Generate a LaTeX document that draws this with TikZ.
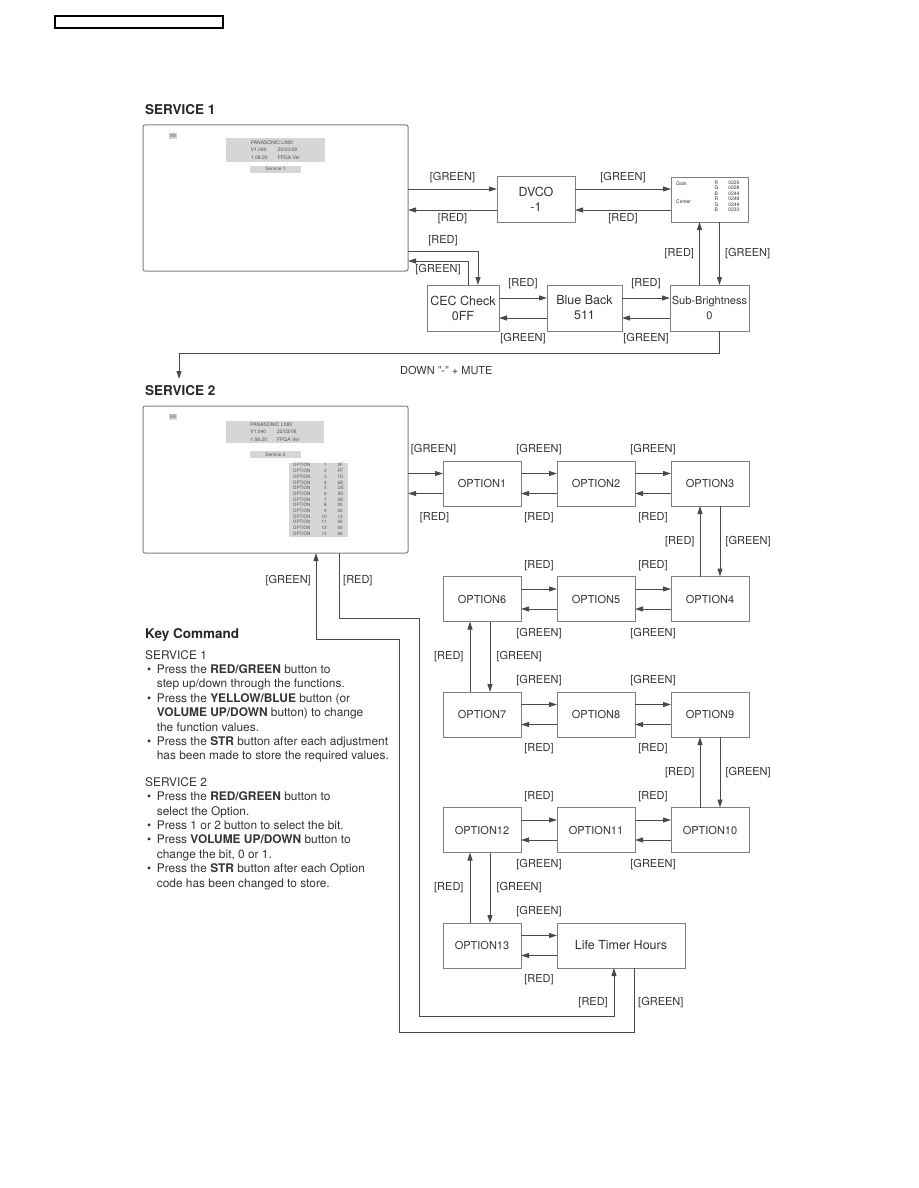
\documentclass[tikz,border=0pt]{standalone}
\usepackage{fontspec}
\setmainfont{TeX Gyre Heros}
\usepackage{tikz}
\usetikzlibrary{positioning,arrows.meta,calc}
\definecolor{ink}{HTML}{333333}
\definecolor{frame}{HTML}{7F7F7F}
\definecolor{wire}{HTML}{4A4A4A}
\definecolor{osd}{HTML}{D6D6D6}
\newcommand{\btn}[1]{\textbf{#1}}
\tikzset{
  pagehdr/.style = {rectangle, draw=black, line width=1.3pt, minimum width=168pt, minimum height=12pt,
                    inner sep=0pt},
  screen/.style  = {rectangle, rounded corners=2pt, draw=frame, line width=1pt, minimum width=265pt,
                    minimum height=146pt, inner sep=0pt, outer sep=0pt},
  fnbox/.style   = {rectangle, draw=frame, fill=white, line width=0.9pt, minimum width=#1, minimum height=46pt,
                    inner sep=0pt, outer sep=0pt, align=center, text=ink, font=\fontsize{12.5}{15}\selectfont},
  fnbox/.default = 78pt,
  optbox/.style  = {rectangle, draw=frame, line width=0.9pt, minimum width=78pt, minimum height=45pt,
                    inner sep=0pt, outer sep=0pt, text=ink, font=\fontsize{11}{13}\selectfont},
  link/.style    = {-{Triangle[length=8pt,width=5pt]}, line width=1pt, draw=wire},
  tag/.style     = {font=\fontsize{11}{13}\selectfont, text=ink, inner sep=0pt},
  tagup/.style   = {tag, midway, yshift=23.5pt},
  tagdown/.style = {tag, midway, yshift=-24.5pt},
  osdbox/.style  = {fill=osd, inner sep=1pt, text=ink!85, font=\fontsize{5}{7.5}\selectfont},
  tiny/.style    = {inner sep=0pt, text=ink, font=\fontsize{5}{5.5}\selectfont},
  title/.style   = {anchor=base west, inner sep=0pt, text=black!85, font=\bfseries\fontsize{13.5}{16}\selectfont},
  keytext/.style = {anchor=base west, inner sep=0pt, text=ink, font=\fontsize{11.9}{14.4}\selectfont},
}

\begin{document}
\begin{tikzpicture}[x=1pt, y=-1pt]
  \useasboundingbox (0,0) rectangle (918,1188);
  \node[pagehdr] (hdrbox) at (139,22) {};

  % --- service 1 ---
  \node[title] (titleone) at (145,114) {SERVICE 1};
  \node[screen] (scr1) at (275.5,198) {};
  \node[osdbox] (chone) at (173,136) {99};
  \node[osdbox, minimum width=99pt, minimum height=24pt, inner sep=0pt] (infoone) at (275.5,150)
    {\begin{tabular}{@{}l@{\hspace{10pt}}l@{}}\multicolumn{2}{@{}l@{}}{PANASONIC LX80}\\
     V1.040 & 22/03/08\\ 1.08.20 & FPGA Ver\end{tabular}};
  \node[osdbox, minimum width=51pt, minimum height=7pt, inner sep=0pt, font=\fontsize{4.8}{5}\selectfont]
    (modeone) at (275.5,169) {Service 1};

  \node[fnbox] (dvco) at (536,199) {DVCO\\-1};
  \node[fnbox=77pt, minimum height=45pt] (gain) at (709.5,199.5) {};
  \node[tiny, anchor=west] (gaintxt) at (676,184) {Gain};
  \node[tiny, anchor=west] (centertxt) at (676,202) {Center};
  \node[tiny] (gainvals) at (727,197)
    {\begin{tabular}{@{}l@{\hspace{10pt}}l@{}}R&0229\\G&0228\\B&0244\\R&0248\\G&0244\\B&0233\end{tabular}};
  \node[fnbox=72pt] (cec) at (463,308) {CEC Check\\0FF};
  \node[fnbox=75pt] (blueback) at (584.5,308) {Blue Back\\511};
  \node[fnbox=79pt, font=\fontsize{11}{15}\selectfont] (subbr) at (709.5,308) {Sub-Brightness\\0};

  \draw[link] ($(scr1.east |- dvco.west)+(0,-10)$) -- node[tag, yshift=11pt] {[GREEN]} ($(dvco.west)+(0,-10)$);
  \draw[link] ($(dvco.west)+(0,11)$) -- node[tag, yshift=-9pt] {[RED]} ($(scr1.east |- dvco.west)+(0,11)$);
  \draw[link] ($(dvco.east)+(0,-10)$) -- node[tag, yshift=11pt] {[GREEN]} ($(gain.west |- dvco.east)+(0,-10)$);
  \draw[link] ($(gain.west |- dvco.east)+(0,11)$) -- node[tag, yshift=-9pt] {[RED]} ($(dvco.east)+(0,11)$);
  \draw[link] ($(gain.south)+(10,0)$) -- node[tag, right=5pt] {[GREEN]} ($(subbr.north)+(10,0)$);
  \draw[link] ($(subbr.north)+(-10,0)$) -- node[tag, left=5pt] {[RED]} ($(gain.south)+(-10,0)$);
  \draw[link] ($(cec.east)+(0,-10)$) -- node[tag, yshift=14pt] {[RED]} ($(blueback.west)+(0,-10)$);
  \draw[link] ($(blueback.west)+(0,10)$) -- node[tag, yshift=-21pt] {[GREEN]} ($(cec.east)+(0,10)$);
  \draw[link] ($(blueback.east)+(0,-10)$) -- node[tag, yshift=14pt] {[RED]} ($(subbr.west)+(0,-10)$);
  \draw[link] ($(subbr.west)+(0,10)$) -- node[tag, yshift=-21pt] {[GREEN]} ($(blueback.east)+(0,10)$);
  \draw[link] ($(scr1.east)+(0,53)$) -| node[tag, pos=0.25, yshift=10pt] {[RED]} ($(cec.north)+(15,0)$);
  \draw[link] ($(cec.north)+(5,0)$) |- node[tag, pos=0.75, yshift=-9pt] {[GREEN]} ($(scr1.east)+(0,63)$);

  % --- into service 2 ---
  \coordinate (stwoin) at (179,379);
  \draw[link] ($(subbr.south)+(10,0)$) -- ++(0,22) -| (stwoin);
  \node[tag, anchor=west] (downmute) at (400,370) {DOWN "-" + MUTE};

  % --- service 2 ---
  \node[title] (titletwo) at (145,395) {SERVICE 2};
  \node[screen, minimum height=147pt] (scr2) at (275.5,479.5) {};
  \node[osdbox] (chtwo) at (173,417) {99};
  \node[osdbox, minimum width=98pt, minimum height=22pt, inner sep=0pt] (infotwo) at (275,432)
    {\begin{tabular}{@{}l@{\hspace{10pt}}l@{}}\multicolumn{2}{@{}l@{}}{PANASONIC LX80}\\
     V1.040 & 22/03/08\\ 1.08.20 & FPGA Ver\end{tabular}};
  \node[osdbox, minimum width=51pt, minimum height=7pt, inner sep=0pt, font=\fontsize{4.8}{5}\selectfont]
    (modetwo) at (275.5,454.5) {Service 2};
  \node[osdbox, minimum width=59pt, minimum height=74pt, inner sep=0pt, font=\fontsize{4.6}{5.7}\selectfont]
    (optlist) at (318.5,500)
    {\begin{tabular}{@{}l@{\hspace{11pt}}r@{\hspace{11pt}}l@{}}
     OPTION&1&2F\\ OPTION&2&FF\\ OPTION&3&7D\\ OPTION&4&6B\\ OPTION&5&DE\\ OPTION&6&9D\\ OPTION&7&3D\\
     OPTION&8&00\\ OPTION&9&00\\ OPTION&10&12\\ OPTION&11&65\\ OPTION&12&00\\ OPTION&13&06\end{tabular}};

  \node[optbox] (opt1) at (482,483.5) {OPTION1};
  \node[optbox, right=36pt of opt1] (opt2) {OPTION2};
  \node[optbox, right=36pt of opt2] (opt3) {OPTION3};
  \node[optbox, below=70.5pt of opt3] (opt4) {OPTION4};
  \node[optbox, left=36pt of opt4] (opt5) {OPTION5};
  \node[optbox, left=36pt of opt5] (opt6) {OPTION6};
  \node[optbox, below=70.5pt of opt6] (opt7) {OPTION7};
  \node[optbox, right=36pt of opt7] (opt8) {OPTION8};
  \node[optbox, right=36pt of opt8] (opt9) {OPTION9};
  \node[optbox, below=70.5pt of opt9] (opt10) {OPTION10};
  \node[optbox, left=36pt of opt10] (opt11) {OPTION11};
  \node[optbox, left=36pt of opt11] (opt12) {OPTION12};
  \node[optbox, below=70.5pt of opt12] (opt13) {OPTION13};
  \node[optbox, minimum width=128pt, font=\fontsize{12.5}{15}\selectfont, right=36pt of opt13] (life) {Life Timer Hours};

  % row 1
  \draw[link] ($(scr2.east |- opt1.west)+(0,-10)$) -- node[tagup, xshift=8pt] {[GREEN]} ($(opt1.west)+(0,-10)$);
  \draw[link] ($(opt1.west)+(0,10)$) -- node[tagdown, xshift=9pt] {[RED]} ($(scr2.east |- opt1.west)+(0,10)$);
  \draw[link] ($(opt1.east)+(0,-10)$) -- node[tagup] {[GREEN]} ($(opt2.west)+(0,-10)$);
  \draw[link] ($(opt2.west)+(0,10)$) -- node[tagdown] {[RED]} ($(opt1.east)+(0,10)$);
  \draw[link] ($(opt2.east)+(0,-10)$) -- node[tagup] {[GREEN]} ($(opt3.west)+(0,-10)$);
  \draw[link] ($(opt3.west)+(0,10)$) -- node[tagdown] {[RED]} ($(opt2.east)+(0,10)$);
  \draw[link] ($(opt3.south)+(10,0)$) -- node[tag, right=5pt] {[GREEN]} ($(opt4.north)+(10,0)$);
  \draw[link] ($(opt4.north)+(-10,0)$) -- node[tag, left=5pt] {[RED]} ($(opt3.south)+(-10,0)$);
  % row 2
  \draw[link] ($(opt6.east)+(0,-10)$) -- node[tagup] {[RED]} ($(opt5.west)+(0,-10)$);
  \draw[link] ($(opt5.west)+(0,10)$) -- node[tagdown] {[GREEN]} ($(opt6.east)+(0,10)$);
  \draw[link] ($(opt5.east)+(0,-10)$) -- node[tagup] {[RED]} ($(opt4.west)+(0,-10)$);
  \draw[link] ($(opt4.west)+(0,10)$) -- node[tagdown] {[GREEN]} ($(opt5.east)+(0,10)$);
  \draw[link] ($(opt6.south)+(8,0)$) -- node[tag, right=6pt] {[GREEN]} ($(opt7.north)+(8,0)$);
  \draw[link] ($(opt7.north)+(-12,0)$) -- node[tag, left=6pt] {[RED]} ($(opt6.south)+(-12,0)$);
  % row 3
  \draw[link] ($(opt7.east)+(0,-10)$) -- node[tagup] {[GREEN]} ($(opt8.west)+(0,-10)$);
  \draw[link] ($(opt8.west)+(0,10)$) -- node[tagdown] {[RED]} ($(opt7.east)+(0,10)$);
  \draw[link] ($(opt8.east)+(0,-10)$) -- node[tagup] {[GREEN]} ($(opt9.west)+(0,-10)$);
  \draw[link] ($(opt9.west)+(0,10)$) -- node[tagdown] {[RED]} ($(opt8.east)+(0,10)$);
  \draw[link] ($(opt9.south)+(10,0)$) -- node[tag, right=5pt] {[GREEN]} ($(opt10.north)+(10,0)$);
  \draw[link] ($(opt10.north)+(-10,0)$) -- node[tag, left=5pt] {[RED]} ($(opt9.south)+(-10,0)$);
  % row 4
  \draw[link] ($(opt12.east)+(0,-10)$) -- node[tagup] {[RED]} ($(opt11.west)+(0,-10)$);
  \draw[link] ($(opt11.west)+(0,10)$) -- node[tagdown] {[GREEN]} ($(opt12.east)+(0,10)$);
  \draw[link] ($(opt11.east)+(0,-10)$) -- node[tagup] {[RED]} ($(opt10.west)+(0,-10)$);
  \draw[link] ($(opt10.west)+(0,10)$) -- node[tagdown] {[GREEN]} ($(opt11.east)+(0,10)$);
  \draw[link] ($(opt12.south)+(8,0)$) -- node[tag, right=6pt] {[GREEN]} ($(opt13.north)+(8,0)$);
  \draw[link] ($(opt13.north)+(-12,0)$) -- node[tag, left=6pt] {[RED]} ($(opt12.south)+(-12,0)$);
  % row 5
  \draw[link] ($(opt13.east)+(0,-10)$) -- node[tagup] {[GREEN]} ($(life.west)+(0,-10)$);
  \draw[link] ($(life.west)+(0,10)$) -- node[tagdown] {[RED]} ($(opt13.east)+(0,10)$);

  % back to service 2
  \draw[link] ($(scr2.south)+(63.5,0)$) -- ++(0,65) -- ++(80,0) -- ++(0,398) -| ($(life.south)+(-7,0)$);
  \draw[link] ($(life.south)+(13,0)$) -- ++(0,64) -- ++(-235,0) -- ++(0,-393) -| ($(scr2.south)+(40.5,0)$);
  \node[tag, anchor=east] (retgreen) at (311,581) {[GREEN]};
  \node[tag, anchor=west] (retred) at (343,581) {[RED]};
  \node[tag, anchor=east] (lifered) at (608,1003) {[RED]};
  \node[tag, anchor=west] (lifegreen) at (638,1003) {[GREEN]};

  % --- key command ---
  \node[title] (keytitle) at (145,638) {Key Command};
  \node[keytext] (keylist) at (145,659)
    {\begin{tabular}[t]{@{\hspace{2pt}}l@{\hspace{5.5pt}}l@{}}
     \multicolumn{2}{@{}l}{SERVICE 1}\\
     \textbullet & Press the \btn{RED/GREEN} button to\\
                 & step up/down through the functions.\\
     \textbullet & Press the \btn{YELLOW/BLUE} button (or\\
                 & \btn{VOLUME UP/DOWN} button) to change\\
                 & the function values.\\
     \textbullet & Press the \btn{STR} button after each adjustment\\
                 & has been made to store the required values.\\[12pt]
     \multicolumn{2}{@{}l}{SERVICE 2}\\
     \textbullet & Press the \btn{RED/GREEN} button to\\
                 & select the Option.\\
     \textbullet & Press 1 or 2 button to select the bit.\\
     \textbullet & Press \btn{VOLUME UP/DOWN} button to\\
                 & change the bit, 0 or 1.\\
     \textbullet & Press the \btn{STR} button after each Option\\
                 & code has been changed to store.
     \end{tabular}};
\end{tikzpicture}
\end{document}
